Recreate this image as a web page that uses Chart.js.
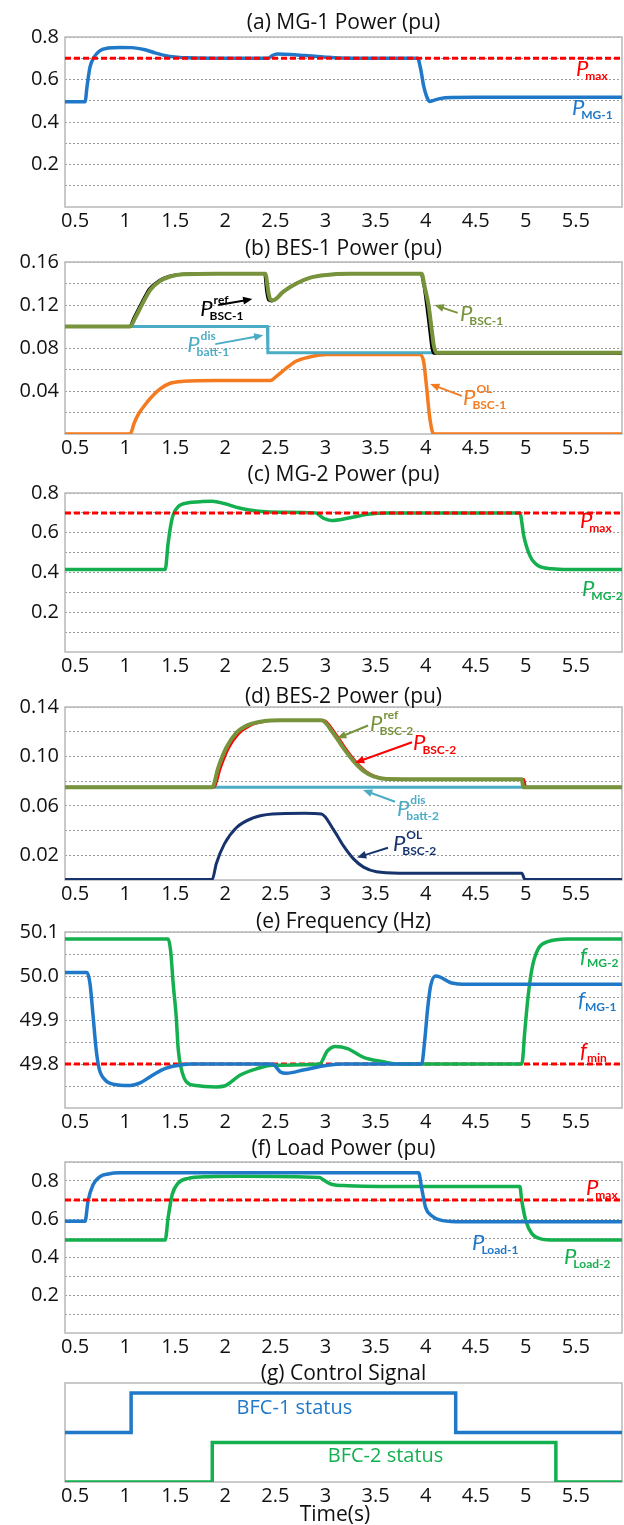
<!DOCTYPE html>
<html>
<head>
<meta charset="utf-8">
<script src="https://cdn.jsdelivr.net/npm/chart.js@4.4.1/dist/chart.umd.min.js"></script>
<style>
  body { margin: 0; background: #fff; width: 624px; height: 1525px; position: relative; overflow: hidden; font-family: 'Open Sans', sans-serif; }
  canvas { position: absolute; left: 0; }
  .title { position: absolute; left: 65px; width: 557px; text-align: center; font-size: 21px; line-height: 24px; color: #111; z-index: 2; }
</style>
</head>
<body>
<script>
'use strict';

// ---- axes ----
const xTicks = [0.5, 1, 1.5, 2, 2.5, 3, 3.5, 4, 4.5, 5, 5.5];
const xTickLabels = ['0.5', '1', '1.5', '2', '2.5', '3', '3.5', '4', '4.5', '5', '5.5'];
const xRange = [0.4, 5.96];

const yTicksPu = [0.1, 0.2, 0.3, 0.4, 0.5, 0.6, 0.7, 0.8];
const yLabelsPu = ['', '0.2', '', '0.4', '', '0.6', '', '0.8'];
const yTicksB1 = [0.02, 0.04, 0.06, 0.08, 0.1, 0.12, 0.14, 0.16];
const yLabelsB1 = ['', '0.04', '', '0.08', '', '0.12', '', '0.16'];
const yTicksB2 = [0.02, 0.04, 0.06, 0.08, 0.1, 0.12, 0.14];
const yLabelsB2 = ['0.02', '', '0.06', '', '0.10', '', '0.14'];
const yTicksF = [49.75, 49.8, 49.85, 49.9, 49.95, 50, 50.05, 50.1];
const yLabelsF = ['', '49.8', '', '49.9', '', '50.0', '', '50.1'];
const yTicksL = [0.1, 0.2, 0.3, 0.4, 0.5, 0.6, 0.7, 0.8, 0.9];
const yLabelsL = ['', '0.2', '', '0.4', '', '0.6', '', '0.8', ''];

// ---- limits ----
const pMax = 0.7;
const fMin = 49.8;

// ---- (a) MG-1 power ----
const tMG1 = [0.4, 0.6, 0.62, 0.65, 0.69, 0.75, 0.83, 0.95, 1.07, 1.2, 1.3, 1.43, 1.63, 2.0, 2.43, 2.47, 2.52, 2.65, 2.79, 2.98, 3.14, 3.5, 3.92, 3.95, 3.98, 4.01, 4.04, 4.08, 4.14, 4.26, 4.5, 5.96];
const pMG1 = [0.495, 0.495, 0.567, 0.659, 0.705, 0.736, 0.748, 0.751, 0.75, 0.74, 0.725, 0.71, 0.702, 0.70, 0.70, 0.713, 0.72, 0.718, 0.713, 0.706, 0.701, 0.70, 0.70, 0.65, 0.57, 0.52, 0.497, 0.502, 0.51, 0.515, 0.516, 0.516];

// ---- (b) BES-1 power ----
const tBsc1 = [0.4, 1.05, 1.1, 1.15, 1.2, 1.25, 1.35, 1.45, 1.58, 1.91, 2.40, 2.43, 2.45, 2.48, 2.58, 2.71, 2.85, 3.01, 3.24, 3.96, 3.99, 4.03, 4.06, 4.08, 4.11, 5.96];
const pBsc1 = [0.1, 0.1, 0.108, 0.117, 0.126, 0.134, 0.1425, 0.1465, 0.1485, 0.149, 0.149, 0.132, 0.125, 0.1245, 0.1324, 0.14, 0.1455, 0.148, 0.149, 0.149, 0.137, 0.119, 0.0975, 0.083, 0.0755, 0.0755];
const tRef1 = [0.4, 1.04, 1.09, 1.14, 1.19, 1.24, 1.34, 1.44, 1.57, 1.9, 2.39, 2.41, 2.43, 2.46, 2.57, 2.7, 2.84, 3.0, 3.23, 3.95, 3.98, 4.01, 4.04, 4.06, 4.08, 5.96];
const pRef1 = [0.1, 0.1, 0.109, 0.118, 0.127, 0.135, 0.143, 0.147, 0.1488, 0.1492, 0.1492, 0.133, 0.1245, 0.1235, 0.132, 0.1398, 0.1453, 0.148, 0.149, 0.149, 0.138, 0.118, 0.095, 0.08, 0.075, 0.075];
const tDis1 = [0.4, 2.42, 2.425, 5.96];
const pDis1 = [0.1, 0.1, 0.0755, 0.0755];
const tOl1 = [0.4, 1.05, 1.09, 1.13, 1.19, 1.25, 1.35, 1.45, 1.58, 1.91, 2.45, 2.51, 2.61, 2.71, 2.85, 3.01, 3.24, 3.94, 3.98, 4.01, 4.04, 4.08, 5.96];
const pOl1 = [0, 0, 0.01, 0.018, 0.026, 0.033, 0.042, 0.0472, 0.049, 0.0497, 0.0497, 0.0536, 0.0612, 0.0679, 0.0718, 0.0739, 0.074, 0.074, 0.0673, 0.043, 0.0157, 0, 0];

// ---- (c) MG-2 power ----
const tMG2 = [0.4, 1.4, 1.43, 1.47, 1.53, 1.63, 1.75, 1.87, 1.99, 2.15, 2.31, 2.55, 2.9, 2.98, 3.06, 3.22, 3.42, 3.62, 4.94, 4.98, 5.04, 5.12, 5.26, 5.42, 5.96];
const pMG2 = [0.415, 0.415, 0.55, 0.673, 0.731, 0.751, 0.756, 0.759, 0.747, 0.723, 0.71, 0.703, 0.70, 0.673, 0.662, 0.673, 0.693, 0.70, 0.70, 0.583, 0.485, 0.435, 0.419, 0.415, 0.415];

// ---- (d) BES-2 power ----
const tRef2 = [0.4, 1.87, 1.93, 2.01, 2.11, 2.23, 2.39, 2.55, 2.96, 3.08, 3.18, 3.28, 3.38, 3.48, 3.61, 4.0, 4.96, 4.975, 5.96];
const pRef2 = [0.075, 0.075, 0.091, 0.107, 0.119, 0.1255, 0.1286, 0.1292, 0.1292, 0.1186, 0.1067, 0.0962, 0.0883, 0.0838, 0.0817, 0.0815, 0.0815, 0.075, 0.075];
const tBsc2 = [0.4, 1.89, 1.95, 2.03, 2.13, 2.25, 2.41, 2.57, 2.98, 3.1, 3.2, 3.3, 3.4, 3.5, 3.63, 4.0, 4.98, 5.0, 5.96];
const pBsc2 = [0.075, 0.075, 0.09, 0.106, 0.118, 0.125, 0.1284, 0.1292, 0.1292, 0.1186, 0.1067, 0.0962, 0.0883, 0.0838, 0.0817, 0.0815, 0.0815, 0.075, 0.075];
const tDis2 = [0.4, 5.96];
const pDis2 = [0.075, 0.075];
const tOl2 = [0.4, 1.87, 1.91, 1.99, 2.11, 2.27, 2.47, 2.79, 2.96, 3.08, 3.18, 3.28, 3.38, 3.51, 3.74, 4.96, 4.99, 5.96];
const pOl2 = [0.0005, 0.0005, 0.0132, 0.029, 0.0423, 0.05, 0.0534, 0.0541, 0.0534, 0.0408, 0.0276, 0.0171, 0.0104, 0.0066, 0.0055, 0.0055, 0.0005, 0.0005];

// ---- (e) frequency ----
const tF1 = [0.4, 0.62, 0.65, 0.68, 0.71, 0.74, 0.8, 0.88, 1.05, 1.15, 1.25, 1.38, 1.51, 1.65, 2.47, 2.55, 2.61, 2.79, 3.02, 3.18, 3.96, 3.99, 4.02, 4.05, 4.1, 4.14, 4.26, 4.42, 5.96];
const fMG1 = [50.008, 50.008, 49.982, 49.91, 49.835, 49.79, 49.764, 49.754, 49.751, 49.757, 49.771, 49.788, 49.796, 49.8, 49.8, 49.782, 49.779, 49.787, 49.797, 49.8, 49.8, 49.852, 49.926, 49.978, 50.0, 49.998, 49.984, 49.981, 49.981];
const tF2 = [0.4, 1.43, 1.455, 1.48, 1.51, 1.53, 1.56, 1.61, 1.71, 1.91, 1.99, 2.15, 2.31, 2.47, 2.94, 3.02, 3.1, 3.22, 3.38, 3.58, 3.74, 4.96, 4.99, 5.02, 5.06, 5.12, 5.22, 5.42, 5.96];
const fMG2 = [50.084, 50.084, 50.056, 49.982, 49.908, 49.834, 49.79, 49.76, 49.751, 49.748, 49.75, 49.775, 49.789, 49.797, 49.8, 49.83, 49.84, 49.835, 49.815, 49.805, 49.8, 49.8, 49.875, 49.948, 50.015, 50.06, 50.078, 50.084, 50.084];

// ---- (f) load power ----
const tL1 = [0.4, 0.6, 0.63, 0.68, 0.75, 0.83, 0.95, 3.93, 3.96, 4.0, 4.06, 4.14, 4.3, 5.96];
const pLoad1 = [0.588, 0.588, 0.694, 0.78, 0.823, 0.837, 0.843, 0.843, 0.763, 0.66, 0.617, 0.595, 0.586, 0.586];
const tL2 = [0.4, 1.4, 1.43, 1.47, 1.53, 1.63, 1.83, 2.15, 2.94, 2.98, 3.06, 3.22, 3.54, 4.94, 4.96, 5.0, 5.06, 5.14, 5.3, 5.96];
const pLoad2 = [0.489, 0.489, 0.609, 0.729, 0.789, 0.814, 0.823, 0.825, 0.818, 0.806, 0.783, 0.775, 0.771, 0.771, 0.694, 0.591, 0.523, 0.497, 0.489, 0.489];

// ---- (g) control signal ----
const tS1 = [0.4, 1.06, 4.30, 5.96];
const sBfc1 = [0.5, 0.9, 0.5, 0.5];
const tS2 = [0.4, 1.87, 5.30, 5.96];
const sBfc2 = [0, 0.4, 0, 0];

const C = {
  blue: '#1f78c8', green: '#14b04f', olive: '#77933c', cyan: '#4bacc6',
  orange: '#f47b20', navy: '#17336e', red: '#ff0000', black: '#000000',
};

function pts(t, v) { return t.map((x, i) => ({ x, y: v[i] })); }

function curve(t, v, color, width, extra) {
  return Object.assign({
    data: pts(t, v), borderColor: color, borderWidth: width, pointRadius: 0,
    fill: false, cubicInterpolationMode: 'monotone',
  }, extra || {});
}

function limit(y, color) {
  return { data: pts(xRange, [y, y]), borderColor: color, borderWidth: 3, borderDash: [6, 3], pointRadius: 0 };
}

const panels = [
  {
    title: '(a) MG-1 Power (pu)', titleY: 21, top: 33, bottom: 207, y: [0, 0.8], yTicks: yTicksPu, yLabels: yLabelsPu,
    series: [limit(pMax, C.red), curve(tMG1, pMG1, C.blue, 3.5)],
    notes: [
      { x: 5.5, y: 0.616, main: 'P', sub: 'max', color: C.red },
      { x: 5.46, y: 0.432, main: 'P', sub: 'MG-1', color: C.blue },
    ],
  },
  {
    title: '(b) BES-1 Power (pu)', titleY: 247, top: 258, bottom: 434, y: [0, 0.16], yTicks: yTicksB1, yLabels: yLabelsB1,
    series: [
      curve(tBsc1, pBsc1, C.olive, 4),
      curve(tRef1, pRef1, C.black, 2.5),
      curve(tDis1, pDis1, C.cyan, 3, { cubicInterpolationMode: 'default', tension: 0 }),
      curve(tOl1, pOl1, C.orange, 3.5),
    ],
    notes: [
      { x: 1.75, y: 0.110, main: 'P', sub: 'BSC-1', sup: 'ref', color: C.black },
      { x: 1.62, y: 0.0764, main: 'P', sub: 'batt-1', sup: 'dis', color: C.cyan },
      { x: 4.343, y: 0.1055, main: 'P', sub: 'BSC-1', color: C.olive },
      { x: 4.373, y: 0.0273, main: 'P', sub: 'BSC-1', sup: 'OL', color: C.orange },
    ],
    arrows: [
      { x1: 1.93, y1: 0.12, x2: 2.27, y2: 0.1255, color: C.black },
      { x1: 1.90, y1: 0.0836, x2: 2.38, y2: 0.0918, color: C.cyan },
      { x1: 4.32, y1: 0.1127, x2: 4.09, y2: 0.12, color: C.olive },
      { x1: 4.36, y1: 0.0355, x2: 4.045, y2: 0.0464, color: C.orange },
    ],
  },
  {
    title: '(c) MG-2 Power (pu)', titleY: 473, top: 489, bottom: 652, y: [0, 0.8], yTicks: yTicksPu, yLabels: yLabelsPu,
    series: [limit(pMax, C.red), curve(tMG2, pMG2, C.green, 3.5)],
    notes: [
      { x: 5.54, y: 0.623, main: 'P', sub: 'max', color: C.red },
      { x: 5.56, y: 0.28, main: 'P', sub: 'MG-2', color: C.green },
    ],
  },
  {
    title: '(d) BES-2 Power (pu)', titleY: 695, top: 703, bottom: 880, y: [0, 0.14], yTicks: yTicksB2, yLabels: yLabelsB2,
    series: [
      curve(tRef2, pRef2, C.olive, 4),
      curve(tBsc2, pBsc2, C.red, 2.5),
      curve(tDis2, pDis2, C.cyan, 3),
      curve(tOl2, pOl2, C.navy, 3),
    ],
    notes: [
      { x: 3.445, y: 0.1202, main: 'P', sub: 'BSC-2', sup: 'ref', color: C.olive },
      { x: 3.874, y: 0.1052, main: 'P', sub: 'BSC-2', color: C.red },
      { x: 3.714, y: 0.0514, main: 'P', sub: 'batt-2', sup: 'dis', color: C.cyan },
      { x: 3.674, y: 0.0237, main: 'P', sub: 'BSC-2', sup: 'OL', color: C.navy },
    ],
    arrows: [
      { x1: 3.425, y1: 0.125, x2: 3.116, y2: 0.1147, color: C.olive },
      { x1: 3.864, y1: 0.1115, x2: 3.295, y2: 0.0949, color: C.red },
      { x1: 3.694, y1: 0.0633, x2: 3.375, y2: 0.0728, color: C.cyan },
      { x1: 3.624, y1: 0.0261, x2: 3.315, y2: 0.0182, color: C.navy },
    ],
  },
  {
    title: '(e) Frequency (Hz)', titleY: 920, top: 928, bottom: 1108, y: [49.7, 50.1], yTicks: yTicksF, yLabels: yLabelsF,
    series: [curve(tF1, fMG1, C.blue, 3.5), curve(tF2, fMG2, C.green, 3.5), limit(fMin, C.red)],
    notes: [
      { x: 5.54, y: 50.029, main: 'f', sub: 'MG-2', color: C.green },
      { x: 5.52, y: 49.929, main: 'f', sub: 'MG-1', color: C.blue },
      { x: 5.54, y: 49.813, main: 'f', sub: 'min', color: C.red },
    ],
  },
  {
    title: '(f) Load Power (pu)', titleY: 1147, top: 1158, bottom: 1333, y: [0, 0.9], yTicks: yTicksL, yLabels: yLabelsL,
    series: [limit(pMax, C.red), curve(tL1, pLoad1, C.blue, 3.5), curve(tL2, pLoad2, C.green, 3.5)],
    notes: [
      { x: 5.6, y: 0.725, main: 'P', sub: 'max', color: C.red },
      { x: 4.463, y: 0.437, main: 'P', sub: 'Load-1', color: C.blue },
      { x: 5.381, y: 0.365, main: 'P', sub: 'Load-2', color: C.green },
    ],
  },
  {
    title: '(g) Control Signal', titleY: 1372, top: 1383, bottom: 1482, y: [0, 1], yTicks: [], yLabels: [],
    series: [
      curve(tS1, sBfc1, C.blue, 3.5, { cubicInterpolationMode: 'default', stepped: 'before' }),
      curve(tS2, sBfc2, C.green, 3.5, { cubicInterpolationMode: 'default', stepped: 'before' }),
    ],
    texts: [
      { x: 2.69, y: 0.747, text: 'BFC-1 status', color: C.blue },
      { x: 3.6, y: 0.263, text: 'BFC-2 status', color: C.green },
    ],
  },
];

function drawArrow(ctx, x1, y1, x2, y2, color) {
  const ang = Math.atan2(y2 - y1, x2 - x1);
  const head = 10;
  ctx.save();
  ctx.strokeStyle = color;
  ctx.fillStyle = color;
  ctx.lineWidth = 2;
  ctx.beginPath();
  ctx.moveTo(x1, y1);
  ctx.lineTo(x2 - Math.cos(ang) * head * 0.8, y2 - Math.sin(ang) * head * 0.8);
  ctx.stroke();
  ctx.beginPath();
  ctx.moveTo(x2, y2);
  ctx.lineTo(x2 - head * Math.cos(ang - 0.4), y2 - head * Math.sin(ang - 0.4));
  ctx.lineTo(x2 - head * Math.cos(ang + 0.4), y2 - head * Math.sin(ang + 0.4));
  ctx.closePath();
  ctx.fill();
  ctx.restore();
}

const notesPlugin = {
  id: 'notes',
  beforeDatasetsDraw(chart) {
    const a = chart.chartArea;
    const ctx = chart.ctx;
    ctx.save();
    ctx.strokeStyle = '#b8b8b8';
    ctx.lineWidth = 1.5;
    ctx.strokeRect(a.left, a.top, a.right - a.left, a.bottom - a.top);
    ctx.restore();
  },
  afterDatasetsDraw(chart, args, opts) {
    const ctx = chart.ctx;
    const xs = chart.scales.x;
    const ys = chart.scales.y;
    ctx.save();
    ctx.textAlign = 'left';
    ctx.textBaseline = 'alphabetic';
    (opts.notes || []).forEach((n) => {
      const px = xs.getPixelForValue(n.x);
      const py = ys.getPixelForValue(n.y);
      ctx.fillStyle = n.color;
      ctx.font = 'italic 22px Lato';
      ctx.fillText(n.main, px, py);
      const w = ctx.measureText(n.main).width;
      ctx.font = 'bold 12px Lato';
      if (n.sub) ctx.fillText(n.sub, px + w - (n.main === 'P' ? 3 : 0), py + 4);
      if (n.sup) ctx.fillText(n.sup, px + w + 1, py - 12);
    });
    (opts.arrows || []).forEach((r) => {
      drawArrow(ctx, xs.getPixelForValue(r.x1), ys.getPixelForValue(r.y1),
        xs.getPixelForValue(r.x2), ys.getPixelForValue(r.y2), r.color);
    });
    ctx.textAlign = 'center';
    ctx.textBaseline = 'middle';
    ctx.font = '20px "Open Sans"';
    (opts.texts || []).forEach((s) => {
      ctx.fillStyle = s.color;
      ctx.fillText(s.text, xs.getPixelForValue(s.x), ys.getPixelForValue(s.y));
    });
    ctx.restore();
  },
};

const PAD_TOP = 14;
const X_AXIS_H = 30;
const tickFont = { family: 'Open Sans', size: 20 };

panels.forEach((p) => {
  const title = document.createElement('div');
  title.className = 'title';
  title.style.top = (p.titleY - 12) + 'px';
  title.textContent = p.title;
  document.body.appendChild(title);

  const cv = document.createElement('canvas');
  const h = p.bottom - p.top + PAD_TOP + X_AXIS_H;
  cv.width = 624;
  cv.height = h;
  cv.style.top = (p.top - PAD_TOP) + 'px';
  cv.style.width = '624px';
  cv.style.height = h + 'px';
  document.body.appendChild(cv);

  new Chart(cv.getContext('2d'), {
    type: 'line',
    data: { datasets: p.series },
    plugins: [notesPlugin],
    options: {
      animation: false,
      responsive: false,
      devicePixelRatio: 1,
      layout: { padding: { top: PAD_TOP, right: 2, left: 0, bottom: 0 } },
      plugins: {
        legend: { display: false },
        tooltip: { enabled: false },
        notes: { notes: p.notes, arrows: p.arrows, texts: p.texts },
      },
      scales: {
        x: {
          type: 'linear', min: xRange[0], max: xRange[1],
          grid: { display: false, drawTicks: false },
          border: { display: false },
          afterBuildTicks: (s) => { s.ticks = xTicks.map((v) => ({ value: v })); },
          afterFit: (s) => { s.height = X_AXIS_H; },
          ticks: {
            autoSkip: false, maxRotation: 0, padding: 2, color: '#111',
            font: tickFont,
            callback: (v, i) => xTickLabels[i],
          },
        },
        y: {
          min: p.y[0], max: p.y[1],
          grid: { display: p.yTicks.length > 0, drawTicks: false, color: '#9c9c9c', lineWidth: 1 },
          border: { display: false, dash: [2, 2] },
          afterBuildTicks: (s) => { s.ticks = p.yTicks.map((v) => ({ value: v })); },
          afterFit: (s) => { s.width = 65; },
          ticks: {
            autoSkip: false, display: p.yTicks.length > 0, padding: 6, color: '#111',
            font: tickFont,
            callback: (v, i) => p.yLabels[i],
          },
        },
      },
    },
  });
});

const xTitle = document.createElement('div');
xTitle.className = 'title';
xTitle.style.top = (1513 - 12) + 'px';
xTitle.style.left = '0px';
xTitle.style.width = '670px';
xTitle.textContent = 'Time(s)';
document.body.appendChild(xTitle);
</script>
</body>
</html>
